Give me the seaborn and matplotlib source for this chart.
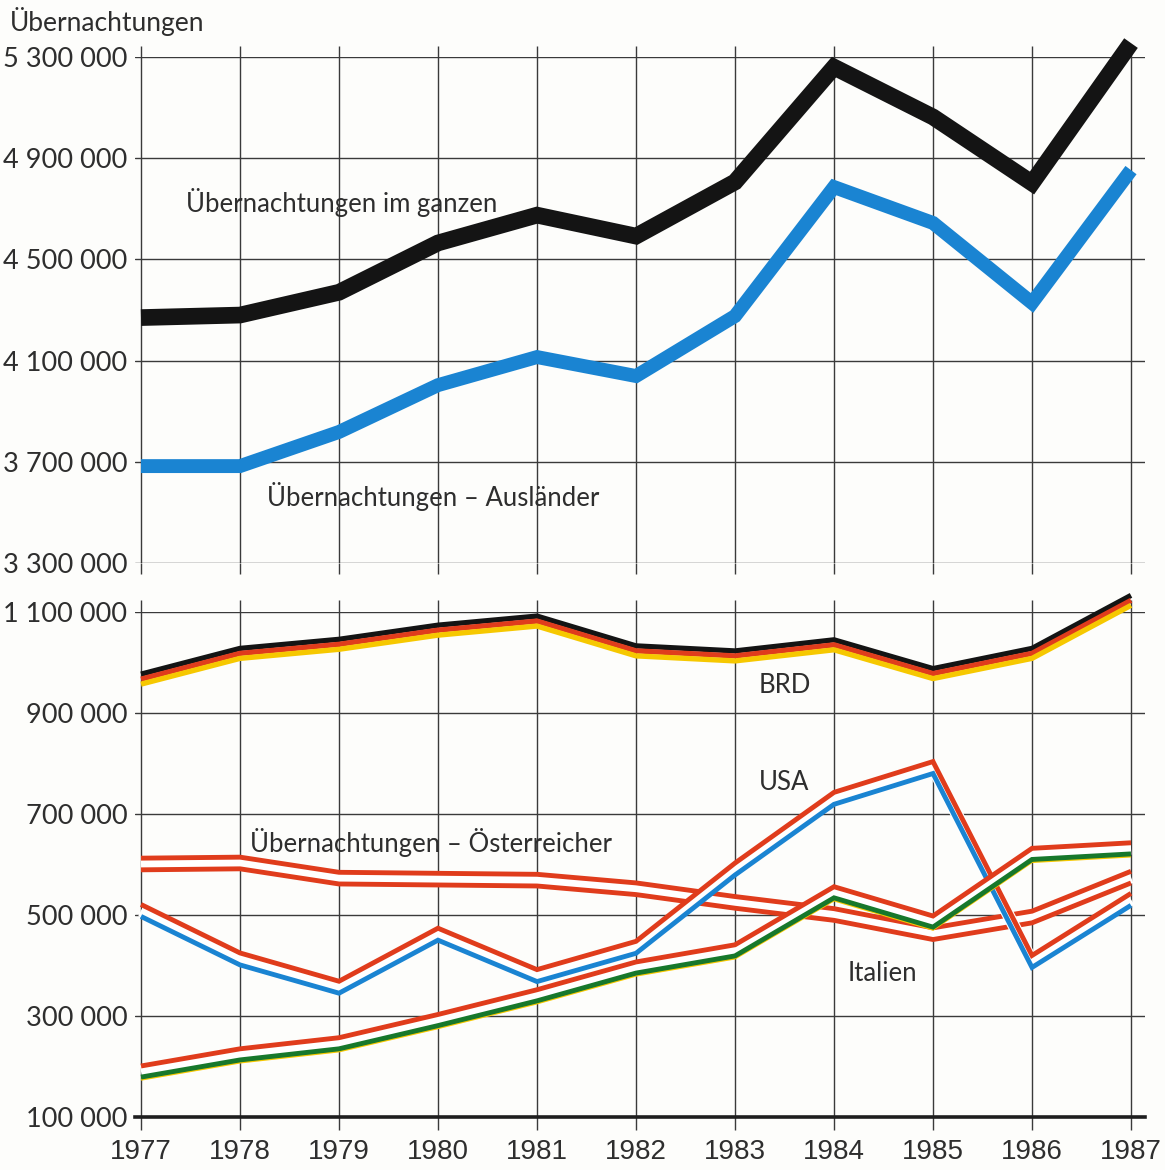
"""
Übernachtungen 1977-1987: total / foreign guests (top) and by country (bottom).
Output: out.png
"""

import matplotlib
matplotlib.use("Agg")
import matplotlib.pyplot as plt
import matplotlib.transforms as mtransforms
import seaborn as sns


YEARS = list(range(1977, 1988))

# top panel
TOTAL = [4270000, 4280000, 4370000, 4565000, 4675000, 4592000, 4806000, 5260000, 5063000, 4802000, 5355000]
AUSLAENDER = [3683000, 3683000, 3818000, 4003000, 4114000, 4039000, 4276000, 4786000, 4644000, 4328000, 4853000]

# bottom panel
BRD = [967000, 1018000, 1036000, 1064000, 1082000, 1023000, 1013000, 1035000, 978000, 1018000, 1123000]
USA = [509000, 413000, 357000, 462000, 380000, 436000, 591000, 731000, 792000, 408000, 531000]
OESTERREICH = [601000, 603000, 573000, 571000, 569000, 552000, 525000, 501000, 463000, 496000, 575000]
ITALIEN = [190000, 224000, 246000, 292000, 341000, 396000, 430000, 545000, 487000, 621000, 632000]

TOP_TICKS = [3300000, 3700000, 4100000, 4500000, 4900000, 5300000]
BOTTOM_TICKS = [100000, 300000, 500000, 700000, 900000, 1100000]

BG = "#fdfdfb"
GRID = "#3a3a3a"
TEXT = "#2e2e2e"
BLACK = "#141414"
BLUE = "#1a84d2"
RED = "#e03c1c"
GOLD = "#f6c800"
GREEN = "#17782c"
WHITE = "#ffffff"

LABEL_FONT = ["Lato", "DejaVu Sans"]
YEAR_FONT = ["Liberation Sans Narrow", "DejaVu Sans Condensed", "Liberation Sans", "DejaVu Sans"]


def fmt(v):
    return f"{v:,}".replace(",", " ")


def configure():
    sns.set_style("white")
    plt.rcParams["font.family"] = LABEL_FONT
    plt.rcParams["axes.unicode_minus"] = False


def striped_line(ax, fig, values, stripes):
    """stripes: list of (colour, linewidth_pt, vertical offset_pt)"""
    for color, lw, dy in stripes:
        sns.lineplot(x=YEARS, y=values, ax=ax, color=color, linewidth=lw,
                     clip_on=False, solid_joinstyle="miter", solid_capstyle="butt",
                     legend=False)
        line = ax.lines[-1]
        off = mtransforms.ScaledTranslation(0, dy / 72.0, fig.dpi_scale_trans)
        line.set_transform(ax.transData + off)


def style_axes(ax, ticks, bottom_labels):
    ax.set_facecolor(BG)
    ax.set_xlim(1977 - 6 / 99, 1987 + 14 / 99)
    ax.set_ylim(ticks[0], ticks[-1])
    ax.set_xticks(YEARS)
    ax.set_yticks(ticks)
    ax.set_yticklabels([fmt(t) for t in ticks])
    ax.grid(True, color=GRID, linewidth=1.0)
    ax.set_axisbelow(True)
    for s in ax.spines.values():
        s.set_visible(False)
    ax.tick_params(axis="y", length=0, pad=5.5, labelsize=19.5, labelcolor=TEXT)
    ax.tick_params(axis="x", direction="out", length=8, width=1.0, color=GRID,
                   bottom=True, top=not bottom_labels, labelbottom=bottom_labels)
    ax.set_xlabel("")
    ax.set_ylabel("")


def main():
    configure()
    fig = plt.figure(figsize=(11.65, 11.70), dpi=100, facecolor=BG)

    ax_top = fig.add_axes([135 / 1165, 1 - 563 / 1170, 1010 / 1165, 506 / 1170])
    ax_bot = fig.add_axes([135 / 1165, 1 - 1117 / 1170, 1010 / 1165, 505 / 1170])

    style_axes(ax_top, TOP_TICKS, bottom_labels=False)
    style_axes(ax_bot, BOTTOM_TICKS, bottom_labels=True)
    ax_bot.tick_params(axis="x", top=True, length=9, pad=7, labelsize=20,
                       labelcolor=TEXT, labelfontfamily=YEAR_FONT)
    ax_bot.spines["bottom"].set_visible(True)
    ax_bot.spines["bottom"].set_color("#1e1e1e")
    ax_bot.spines["bottom"].set_linewidth(2.6)

    # top panel: two thick lines
    striped_line(ax_top, fig, TOTAL, [(BLACK, 12.0, 0)])
    striped_line(ax_top, fig, AUSLAENDER, [(BLUE, 10.0, 0)])

    # bottom panel: flag-coloured stripes
    striped_line(ax_bot, fig, BRD, [(BLACK, 3.8, 3.6), (RED, 3.8, 0), (GOLD, 3.8, -3.6)])
    striped_line(ax_bot, fig, OESTERREICH, [(WHITE, 9.0, 0), (RED, 3.5, 4.2), (RED, 3.5, -4.2)])
    striped_line(ax_bot, fig, USA, [(WHITE, 9.0, 0), (RED, 3.5, 4.3), (BLUE, 3.5, -4.3)])
    striped_line(ax_bot, fig, ITALIEN, [(WHITE, 9.0, 0), (GOLD, 1.6, -5.8),
                                        (RED, 3.5, 4.0), (GREEN, 3.5, -4.0)])

    # labels
    fig.text(10 / 1165, 1 - 22 / 1170, "Übernachtungen", ha="left", va="center",
             fontsize=19, color=TEXT)
    ax_top.text(1979.03, 4723000, "Übernachtungen im ganzen", ha="center", va="center",
                fontsize=18.5, color=TEXT)
    ax_top.text(1979.95, 3561000, "Übernachtungen – Ausländer", ha="center", va="center",
                fontsize=18.5, color=TEXT)
    ax_bot.text(1983.5, 955000, "BRD", ha="center", va="center", fontsize=18.5, color=TEXT)
    ax_bot.text(1983.5, 763000, "USA", ha="center", va="center", fontsize=18.5, color=TEXT)
    ax_bot.text(1979.93, 643000, "Übernachtungen – Österreicher", ha="center", va="center",
                fontsize=18.5, color=TEXT)
    ax_bot.text(1984.49, 385000, "Italien", ha="center", va="center", fontsize=18.5, color=TEXT)

    fig.savefig("out.png", dpi=100, facecolor=BG)
    plt.close(fig)


if __name__ == "__main__":
    main()
